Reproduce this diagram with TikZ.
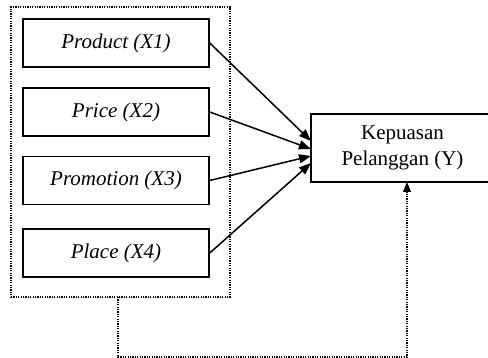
\documentclass[tikz,border=0pt]{standalone}
\usepackage{fontspec}
\setmainfont{Liberation Serif}
\usetikzlibrary{arrows.meta}
\begin{document}
\begin{tikzpicture}[x=1pt,y=-1pt,
  varbox/.style={draw,line width=1.5pt,minimum width=186pt,minimum height=48pt,inner sep=0pt,font=\fontsize{21}{26}\selectfont\itshape},
  ybox/.style={draw,line width=1.5pt,minimum width=183pt,minimum height=68pt,inner sep=0pt,align=center,font=\fontsize{21}{26}\selectfont},
  dotbox/.style={draw,line width=1.2pt,dash pattern=on 1.2pt off 1.2pt,minimum width=219pt,minimum height=290pt,inner sep=0pt},
  arr/.style={line width=1.5pt,-{Triangle[length=12pt,width=9pt]}},
  dotarr/.style={line width=1.2pt,dash pattern=on 1.2pt off 1.2pt,-{Triangle[length=10pt,width=8pt]}}]
\useasboundingbox (0,0) rectangle (488,358);
\node[dotbox] (outer) at (120.5,152) {};
\node[varbox] (x1) at (116,43) {Product (X1)};
\node[varbox] (x2) at (116,112) {Price (X2)};
\node[varbox] (x3) at (116,180.5) {Promotion (X3)};
\node[varbox] (x4) at (116,253) {Place (X4)};
\node[ybox] (y) at (402.5,148) {Kepuasan\\Pelanggan (Y)};
\coordinate (t1) at (311,141);
\coordinate (t2) at (311,149);
\coordinate (t3) at (311,156);
\coordinate (t4) at (311,163);
\draw[arr] (x1.east) -- (t1);
\draw[arr] (x2.east) -- (t2);
\draw[arr] (x3.east) -- (t3);
\draw[arr] (x4.east) -- (t4);
\coordinate (d0) at (118,297);
\coordinate (d1) at (118,357);
\coordinate (d2) at (407,357);
\coordinate (d3) at (407,182);
\draw[dotarr] (d0) -- (d1) -- (d2) -- (d3);
\end{tikzpicture}
\end{document}
